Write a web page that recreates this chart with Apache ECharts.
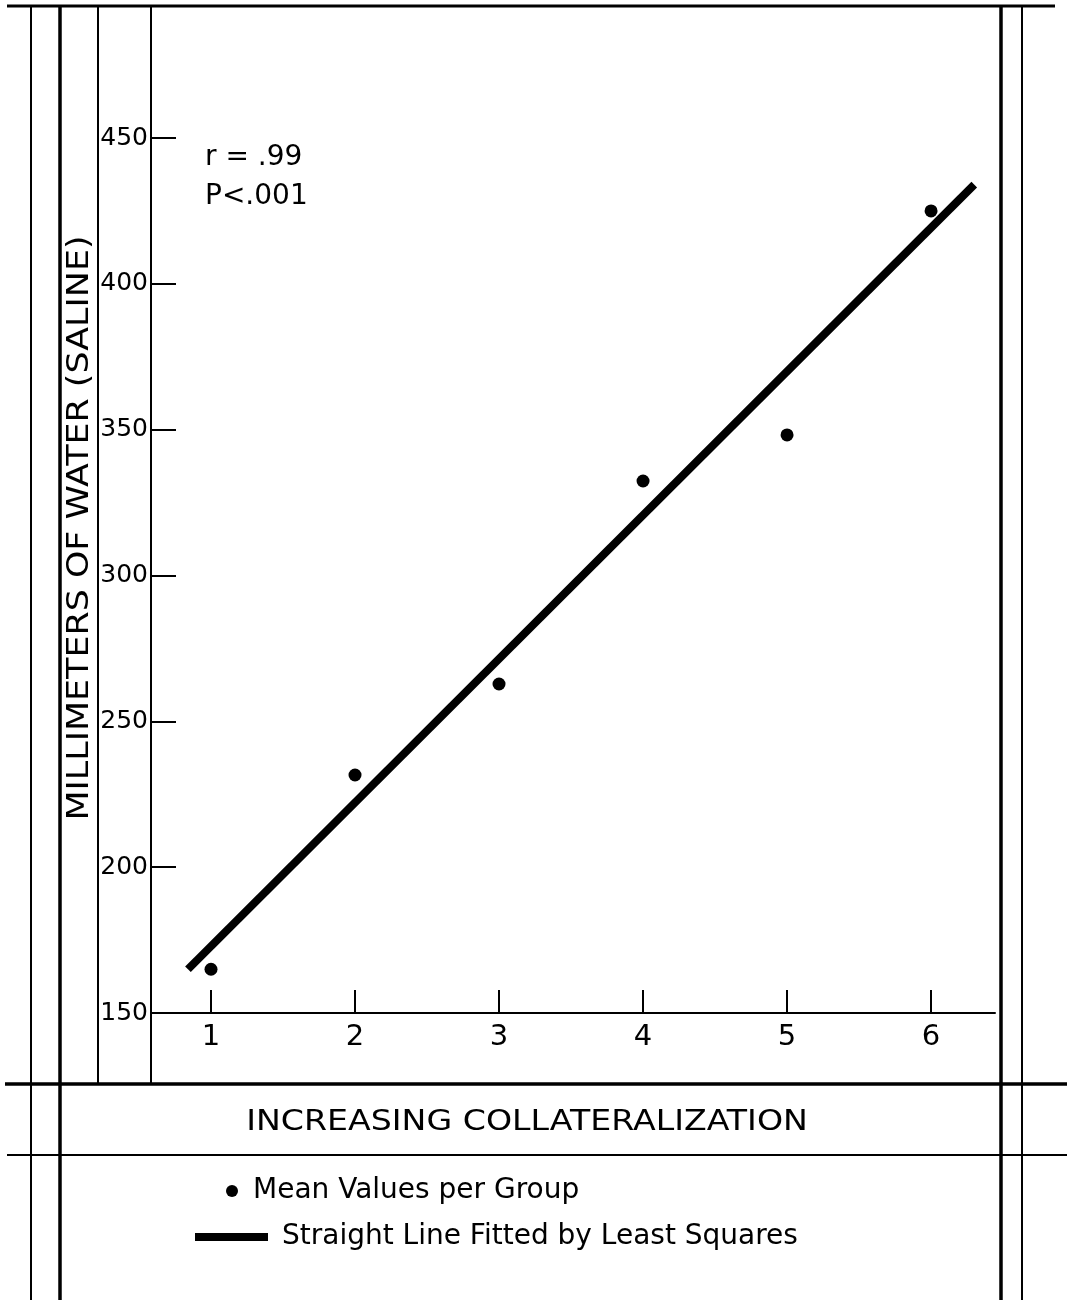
<!DOCTYPE html>
<html><head><meta charset="utf-8">
<script src="https://cdn.jsdelivr.net/npm/echarts@6/dist/echarts.min.js"></script>
<style>html,body{margin:0;padding:0;background:#fff}#c{width:1069px;height:1303px}</style>
</head><body><div id="c"></div>
<script>
const groups = [1, 2, 3, 4, 5, 6];
const meanValues = [165, 231.6, 262.8, 332.4, 348.2, 425];
const fitLine = [[0.84, 165], [6.30, 434]];
const yTicks = [150, 200, 250, 300, 350, 400, 450];
const xTicks = [1, 2, 3, 4, 5, 6];
const stats = ['r = .99', 'P<.001'];
const FONT = '"DejaVu Sans"';

const chart = echarts.init(document.getElementById('c'), null, {renderer: 'canvas'});
const L = (x1, y1, x2, y2, w) => ({type: 'line', shape: {x1, y1, x2, y2}, style: {stroke: '#000', lineWidth: w}, silent: true});
chart.setOption({
  backgroundColor: '#fff',
  animation: false,
  grid: {left: 151, right: 74, top: 5, bottom: 290},
  xAxis: {
    type: 'value', min: 0.5833, max: 6.444,
    axisLine: {show: true, lineStyle: {color: '#000', width: 2}},
    axisTick: {show: true, inside: true, length: 23, customValues: xTicks, lineStyle: {color: '#000', width: 2}},
    axisLabel: {show: true, customValues: xTicks, margin: 10, color: '#000', fontSize: 29, fontFamily: FONT},
    splitLine: {show: false}
  },
  yAxis: {
    type: 'value', min: 150, max: 495.6,
    axisLine: {show: false},
    axisTick: {show: true, inside: true, length: 25, customValues: yTicks, lineStyle: {color: '#000', width: 2}},
    axisLabel: {show: true, customValues: yTicks, margin: 3, color: '#000', fontSize: 25, fontFamily: FONT, padding: [6, 0, 0, 0]},
    splitLine: {show: false}
  },
  legend: [
    {data: [{name: 'Mean Values per Group', icon: 'circle'}], left: 226, top: 1177, padding: 0, itemWidth: 12, itemHeight: 12,
     textStyle: {color: '#000', fontSize: 28, fontFamily: FONT, padding: [0, 0, 0, 10]}, selectedMode: false},
    {data: [{name: 'Straight Line Fitted by Least Squares', icon: 'rect'}], left: 195, top: 1223, padding: 0, itemWidth: 73, itemHeight: 8,
     textStyle: {color: '#000', fontSize: 28, fontFamily: FONT, padding: [0, 0, 0, 9]}, selectedMode: false}
  ],
  series: [
    {name: 'Straight Line Fitted by Least Squares', type: 'line', data: fitLine, symbol: 'none',
     lineStyle: {color: '#000', width: 8, cap: 'butt'}, itemStyle: {color: '#000'}},
    {name: 'Mean Values per Group', type: 'scatter', data: groups.map((g, i) => [g, meanValues[i]]),
     symbol: 'circle', symbolSize: 13, itemStyle: {color: '#000', opacity: 1}}
  ],
  graphic: [
    L(7, 6, 1055, 6, 3),
    L(31, 5, 31, 1300, 2),
    L(60, 5, 60, 1300, 3.5),
    L(98, 5, 98, 1083, 2),
    L(151, 5, 151, 1083, 2),
    L(1001, 5, 1001, 1300, 3.5),
    L(1022, 5, 1022, 1300, 2),
    L(5, 1084, 1067, 1084, 3.5),
    L(7, 1155, 1067, 1155, 2),
    {type: 'text', x: 205, y: 158, style: {text: stats[0], font: `28px ${FONT}`, fill: '#000', textVerticalAlign: 'middle'}},
    {type: 'text', x: 205, y: 197, style: {text: stats[1], font: `28px ${FONT}`, fill: '#000', textVerticalAlign: 'middle'}},
    {type: 'text', x: 527, y: 1122, scaleX: 1.145, style: {text: 'INCREASING COLLATERALIZATION', font: `29px ${FONT}`, fill: '#000', textAlign: 'center', textVerticalAlign: 'middle'}},
    {type: 'text', x: 80, y: 528, rotation: Math.PI / 2, scaleX: 1.125, style: {text: 'MILLIMETERS OF WATER (SALINE)', font: `31px ${FONT}`, fill: '#000', textAlign: 'center', textVerticalAlign: 'middle'}}
  ]
});
</script></body></html>
